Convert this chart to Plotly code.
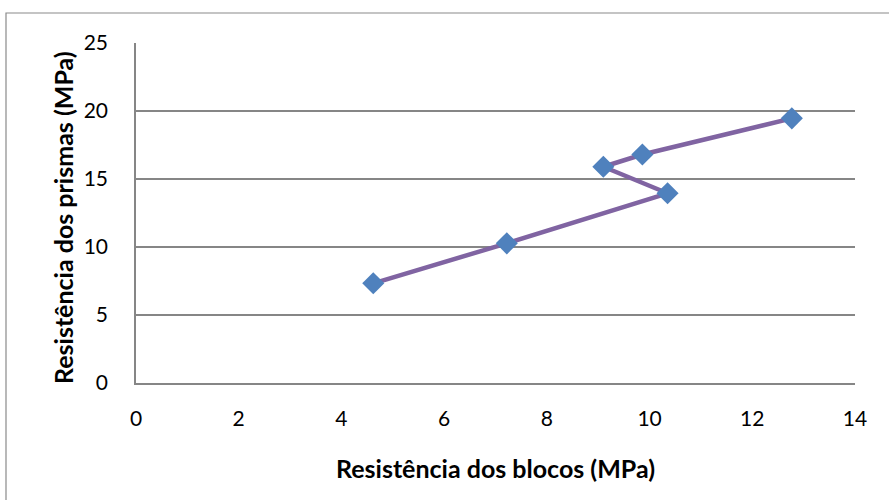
import plotly.graph_objects as go

blocos = [4.62, 7.22, 10.35, 9.10, 9.86, 12.77]
prismas = [7.33, 10.27, 13.95, 15.90, 16.80, 19.46]
x_ticks = [0, 2, 4, 6, 8, 10, 12, 14]
y_ticks = [0, 5, 10, 15, 20, 25]
x_title = "Resistência dos blocos (MPa)"
y_title = "Resistência dos prismas (MPa)"

fig = go.Figure()
fig.add_trace(go.Scatter(
    x=blocos, y=prismas, mode="lines+markers",
    line=dict(color="#8064A2", width=4.5),
    marker=dict(symbol="diamond", size=17, color="#4F81BD", line=dict(width=0)),
    showlegend=False,
))

font_family = "Lato, Open Sans, sans-serif"
fig.update_layout(
    width=889, height=500,
    margin=dict(l=136, r=34, t=43, b=117),
    paper_bgcolor="white", plot_bgcolor="white",
    font=dict(family=font_family, size=21, color="black"),
    xaxis=dict(
        range=[0, 14], tickvals=x_ticks, showgrid=False,
        showline=True, linecolor="#868686", linewidth=1.5,
        ticks="", ticklabelstandoff=16, zeroline=False,
    ),
    yaxis=dict(
        range=[0, 25], tickvals=y_ticks, showgrid=True,
        gridcolor="#868686", gridwidth=1.5,
        showline=True, linecolor="#868686", linewidth=1.5,
        ticks="", ticklabelstandoff=22, zeroline=False,
    ),
    annotations=[
        dict(text="<b>" + x_title + "</b>", xref="paper", yref="paper",
             x=0.5, y=(383 - 468) / 340, xanchor="center", yanchor="middle",
             showarrow=False, font=dict(size=25)),
        dict(text="<b>" + y_title + "</b>", xref="paper", yref="paper",
             x=(63 - 136) / 719, y=(383 - 218) / 340, xanchor="center",
             yanchor="middle", textangle=-90, showarrow=False,
             font=dict(size=25)),
    ],
    shapes=[dict(type="rect", xref="paper", yref="paper",
                 x0=(6 - 136) / 719, x1=1.2, y0=-0.5, y1=(383 - 13) / 340,
                 line=dict(color="#8a8a8a", width=1.2), layer="below")],
)
fig.write_html("out.html")
